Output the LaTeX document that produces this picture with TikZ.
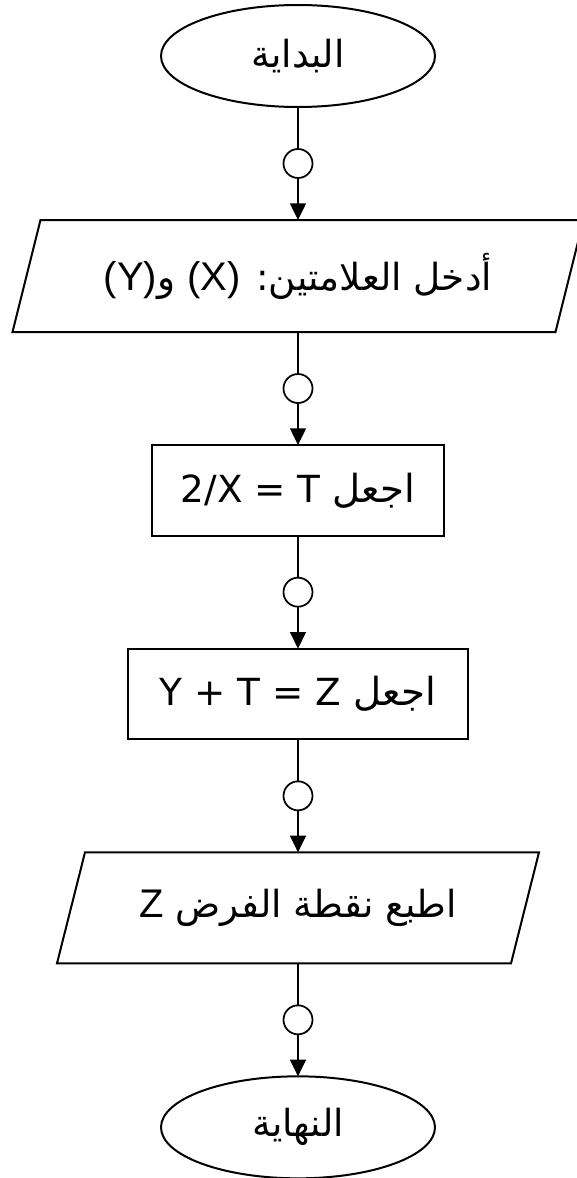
\documentclass[tikz,border=0pt]{standalone}
\usepackage{fontspec}
\setmainfont{Liberation Sans}
\newfontfamily\latinfont{Liberation Sans}
\newfontfamily\widefont{DejaVu Sans}
\newfontfamily\arabicfont[Script=Arabic]{DejaVu Sans}
\TeXXeTstate=1
\usetikzlibrary{shapes.geometric, arrows.meta, positioning}
\definecolor{fcline}{HTML}{000000}
\definecolor{fcbg}{HTML}{FFFFFF}
\tikzset{
  term/.style={ellipse, draw=fcline, line width=1.5pt, minimum width=205.5pt, outer sep=0pt,
              minimum height=76.5pt, inner sep=0pt, font=\fontsize{28}{33}\selectfont},
  iobox/.style={rectangle, minimum height=84pt, inner sep=0pt, outer sep=0pt,
              font=\fontsize{28}{33}\selectfont},
  ioedge/.style={draw=fcline, line width=1.5pt, line join=miter},
  procbox/.style={rectangle, draw=fcline, line width=1.5pt, minimum height=68pt, outer sep=0pt,
              inner sep=0pt, font=\fontsize{29}{34}\selectfont},
  joint/.style={circle, draw=fcline, line width=1.3pt, minimum size=21.75pt, inner sep=0pt, outer sep=0pt},
  link/.style={draw=fcline, line width=1pt},
  flow/.style={-{Triangle[length=12.5pt, width=12pt]}, draw=fcline, line width=1pt},
}
% slanted frame round an input/output node
\newcommand\ioframe[1]{%
  \draw[ioedge] ([xshift=21pt]#1.north west) -- (#1.north east)
    -- ([xshift=-21pt]#1.south east) -- (#1.south west) -- cycle;}

\begin{document}
\begin{tikzpicture}[node distance=31.5pt]
      \useasboundingbox[fill=fcbg] (0,0) rectangle (432pt,-883.5pt);
      \node[term] (start) at (223.5pt,-42pt) {\arabicfont\beginR البداية\endR};
      \node[joint, below=of start] (j1) {};
      \node[iobox, below=of j1, minimum width=428.25pt] (readxy)
        {\arabicfont\beginR أدخل العلامتين\kern0pt: \beginL{\latinfont\fontsize{30}{35}\selectfont(X)}\endL{} و\beginL{\latinfont\fontsize{30}{35}\selectfont(Y)}\endL\endR};
      \node[joint, below=of readxy] (j2) {};
      \node[procbox, below=of j2, minimum width=219pt] (sett)
        {\arabicfont\beginR اجعل \beginL{\widefont\fontsize{28}{33}\selectfont 2/X = T}\endL\endR};
      \node[joint, below=of sett] (j3) {};
      \node[procbox, below=of j3, minimum width=255pt] (setz)
        {\arabicfont\beginR اجعل \beginL{\widefont\fontsize{28}{33}\selectfont Y + T = Z}\endL\endR};
      \node[joint, below=of setz] (j4) {};
      \node[iobox, below=of j4, minimum width=361.5pt, minimum height=83.25pt] (printz)
        {\arabicfont\beginR اطبع نقطة الفرض \beginL{\latinfont\fontsize{30}{35}\selectfont Z}\endL\endR};
      \node[joint, below=of printz] (j5) {};
      \node[term, below=of j5] (stop) {\arabicfont\beginR النهاية\endR};
      \ioframe{readxy}
      \ioframe{printz}
      \draw[link] (start) -- (j1);
      \draw[flow] (j1) -- (readxy);
      \draw[link] (readxy) -- (j2);
      \draw[flow] (j2) -- (sett);
      \draw[link] (sett) -- (j3);
      \draw[flow] (j3) -- (setz);
      \draw[link] (setz) -- (j4);
      \draw[flow] (j4) -- (printz);
      \draw[link] (printz) -- (j5);
      \draw[flow] (j5) -- (stop);
    \end{tikzpicture}
\end{document}
